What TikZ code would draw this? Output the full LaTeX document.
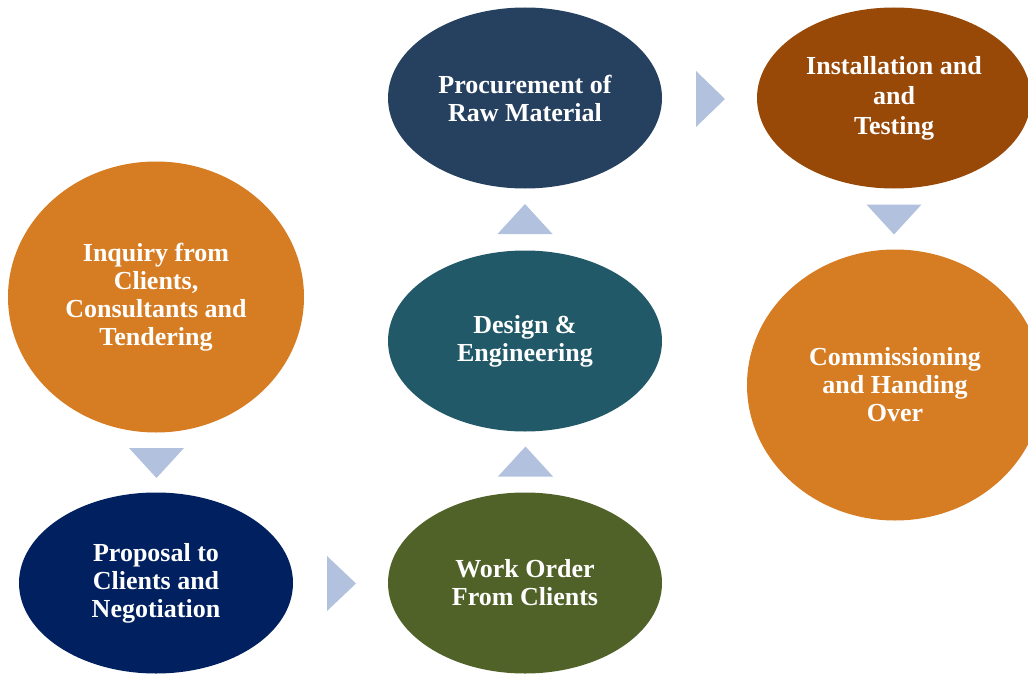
\documentclass[tikz,border=0pt]{standalone}
\usepackage{fontspec}
\setmainfont{Liberation Serif}
\usetikzlibrary{shapes.geometric}
\definecolor{orangestage}{RGB}{214,124,34}
\definecolor{navystage}{RGB}{0,32,96}
\definecolor{olivestage}{RGB}{80,98,40}
\definecolor{tealstage}{RGB}{33,89,104}
\definecolor{slatestage}{RGB}{38,64,96}
\definecolor{brownstage}{RGB}{152,72,7}
\definecolor{arrowblue}{RGB}{178,194,222}
\tikzset{
  stage/.style={ellipse,inner sep=0pt,text=white,align=center,
    font=\bfseries\fontsize{26}{28}\selectfont,
    minimum width=274pt,minimum height=181pt},
  bigstage/.style={stage,minimum width=296pt,minimum height=271pt},
  arrowtri/.style={fill=arrowblue}
}
\begin{document}
\begin{tikzpicture}[x=1pt,y=-1pt]
\useasboundingbox (0,0) rectangle (1028,674);
%					Ellipses :
\node[bigstage,fill=orangestage] (inquiry) at (156,297) {Inquiry from\\Clients,\\Consultants and\\Tendering};
\node[stage,fill=navystage] (proposal) at (156,583) {Proposal to\\Clients and\\Negotiation};
\node[stage,fill=olivestage] (workorder) at (525,583) {Work Order\\From Clients};
\node[stage,fill=tealstage] (design) at (525,341) {Design \&\\Engineering};
\node[stage,fill=slatestage] (procure) at (525,98) {Procurement of\\Raw Material};
\node[stage,fill=brownstage,font=\bfseries\fontsize{26}{30}\selectfont] (install) at (894,98) {Installation and\\and\\Testing};
\node[bigstage,fill=orangestage] (commission) at (895,385) {Commissioning\\and Handing\\Over};
%					Triangles :
\fill[arrowtri,shift={(156.5,463)}] (-27.5,-15) -- (27.5,-15) -- (0,15) -- cycle;
\fill[arrowtri,shift={(341.5,583.5)}] (-14.5,-27.5) -- (14.5,0) -- (-14.5,27.5) -- cycle;
\fill[arrowtri,shift={(525.5,461.5)}] (-27.5,15) -- (27.5,15) -- (0,-15) -- cycle;
\fill[arrowtri,shift={(525,219)}] (-27.5,15) -- (27.5,15) -- (0,-15) -- cycle;
\fill[arrowtri,shift={(710.5,99)}] (-14.5,-28) -- (14.5,0) -- (-14.5,28) -- cycle;
\fill[arrowtri,shift={(894,219.5)}] (-27.5,-15) -- (27.5,-15) -- (0,15) -- cycle;
\end{tikzpicture}
\end{document}
